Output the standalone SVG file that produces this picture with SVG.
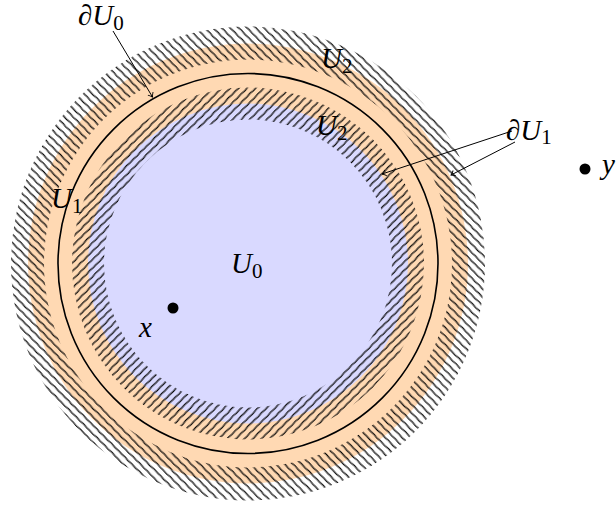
<svg xmlns="http://www.w3.org/2000/svg" width="616" height="506" viewBox="0 0 616 506">
<style>
.lbl{font-family:"Liberation Serif","DejaVu Serif",serif;font-style:italic;font-size:29px;fill:#000}
.sub{font-style:normal;font-size:21px}
.arr{fill:none;stroke:#000;stroke-width:1}
.hl{fill:none;stroke:#000;stroke-width:1.25;stroke-linejoin:round;stroke-linecap:round}
</style>
<defs>
<g id="hatch-lines">
<path class="hl" d="M3 -2 L3 0 L3.4 5 L2.7 9 L3.3 14 L2.8 20 L3.5 25 L2.9 31 L3.3 36 L3 40 L3 42"/>
<path class="hl" d="M9 -2 L9 0 L8.6 4 L9.3 10 L8.8 15 L9.4 19 L8.7 26 L9.2 30 L8.7 35 L9 40 L9 42"/>
<path class="hl" d="M15 -2 L15 0 L15.3 3 L14.7 8 L15.4 13 L14.8 18 L15.2 23 L14.6 28 L15.4 34 L15 40 L15 42"/>
<path class="hl" d="M21 -2 L21 0 L20.6 6 L21.4 11 L20.8 16 L21.3 22 L20.7 27 L21.4 32 L20.8 37 L21 40 L21 42"/>
</g>
<pattern id="ne" width="24" height="40" patternUnits="userSpaceOnUse" patternTransform="rotate(45)">
<use href="#hatch-lines"/>
</pattern>
<pattern id="nw" width="24" height="40" patternUnits="userSpaceOnUse" patternTransform="rotate(-45) translate(2 7)">
<use href="#hatch-lines"/>
</pattern>
<marker id="ah" markerWidth="10" markerHeight="10" refX="0" refY="0" viewBox="-5 -5 10 10" orient="auto" markerUnits="userSpaceOnUse">
<path d="M-4 -3 Q-1.5 -0.8 0 0 Q-1.5 0.8 -4 3" fill="none" stroke="#000" stroke-width="0.9"/>
</marker>
</defs>
<g id="regions">
<circle id="U1-region" cx="248" cy="263.5" r="220" fill="#ffd9b3"/>
<circle id="U0-region" cx="248" cy="263.5" r="160" fill="#d9d9ff"/>
</g>
<g id="hatching">
<path id="inner-band" fill="url(#ne)" fill-rule="evenodd" d="M72 263.5 a176 176 0 1 0 352 0 a176 176 0 1 0 -352 0 Z M104 263.5 a144 144 0 1 0 288 0 a144 144 0 1 0 -288 0 Z"/>
<path id="outer-band" fill="url(#nw)" fill-rule="evenodd" d="M11 263.5 a237 237 0 1 0 474 0 a237 237 0 1 0 -474 0 Z M44 263.5 a204 204 0 1 0 408 0 a204 204 0 1 0 -408 0 Z"/>
</g>
<g id="boundary-U0">
<circle cx="248" cy="263.5" r="190" fill="none" stroke="#000" stroke-width="1.6"/>
</g>
<g id="connectors">
<line class="arr" x1="113" y1="31" x2="152.5" y2="97" marker-end="url(#ah)"/>
<line class="arr" x1="512" y1="131" x2="382" y2="174" marker-end="url(#ah)"/>
<line class="arr" x1="515" y1="142" x2="451" y2="175" marker-end="url(#ah)"/>
</g>
<g id="labels">
<text class="lbl" x="78" y="25">∂U<tspan class="sub" dy="5">0</tspan></text>
<text class="lbl" x="321" y="68">U<tspan class="sub" dy="5">2</tspan></text>
<text class="lbl" x="316" y="135">U<tspan class="sub" dy="5">2</tspan></text>
<text class="lbl" x="506" y="140">∂U<tspan class="sub" dy="4">1</tspan></text>
<text class="lbl" x="51" y="208">U<tspan class="sub" dy="5">1</tspan></text>
<text class="lbl" x="231" y="273">U<tspan class="sub" dy="5">0</tspan></text>
</g>
<g id="point-x">
<circle cx="173" cy="308" r="5.5" fill="#000"/>
<text class="lbl" x="139" y="337">x</text>
</g>
<g id="point-y">
<circle cx="585" cy="169" r="5.5" fill="#000"/>
<text class="lbl" x="602" y="174">y</text>
</g>
</svg>
